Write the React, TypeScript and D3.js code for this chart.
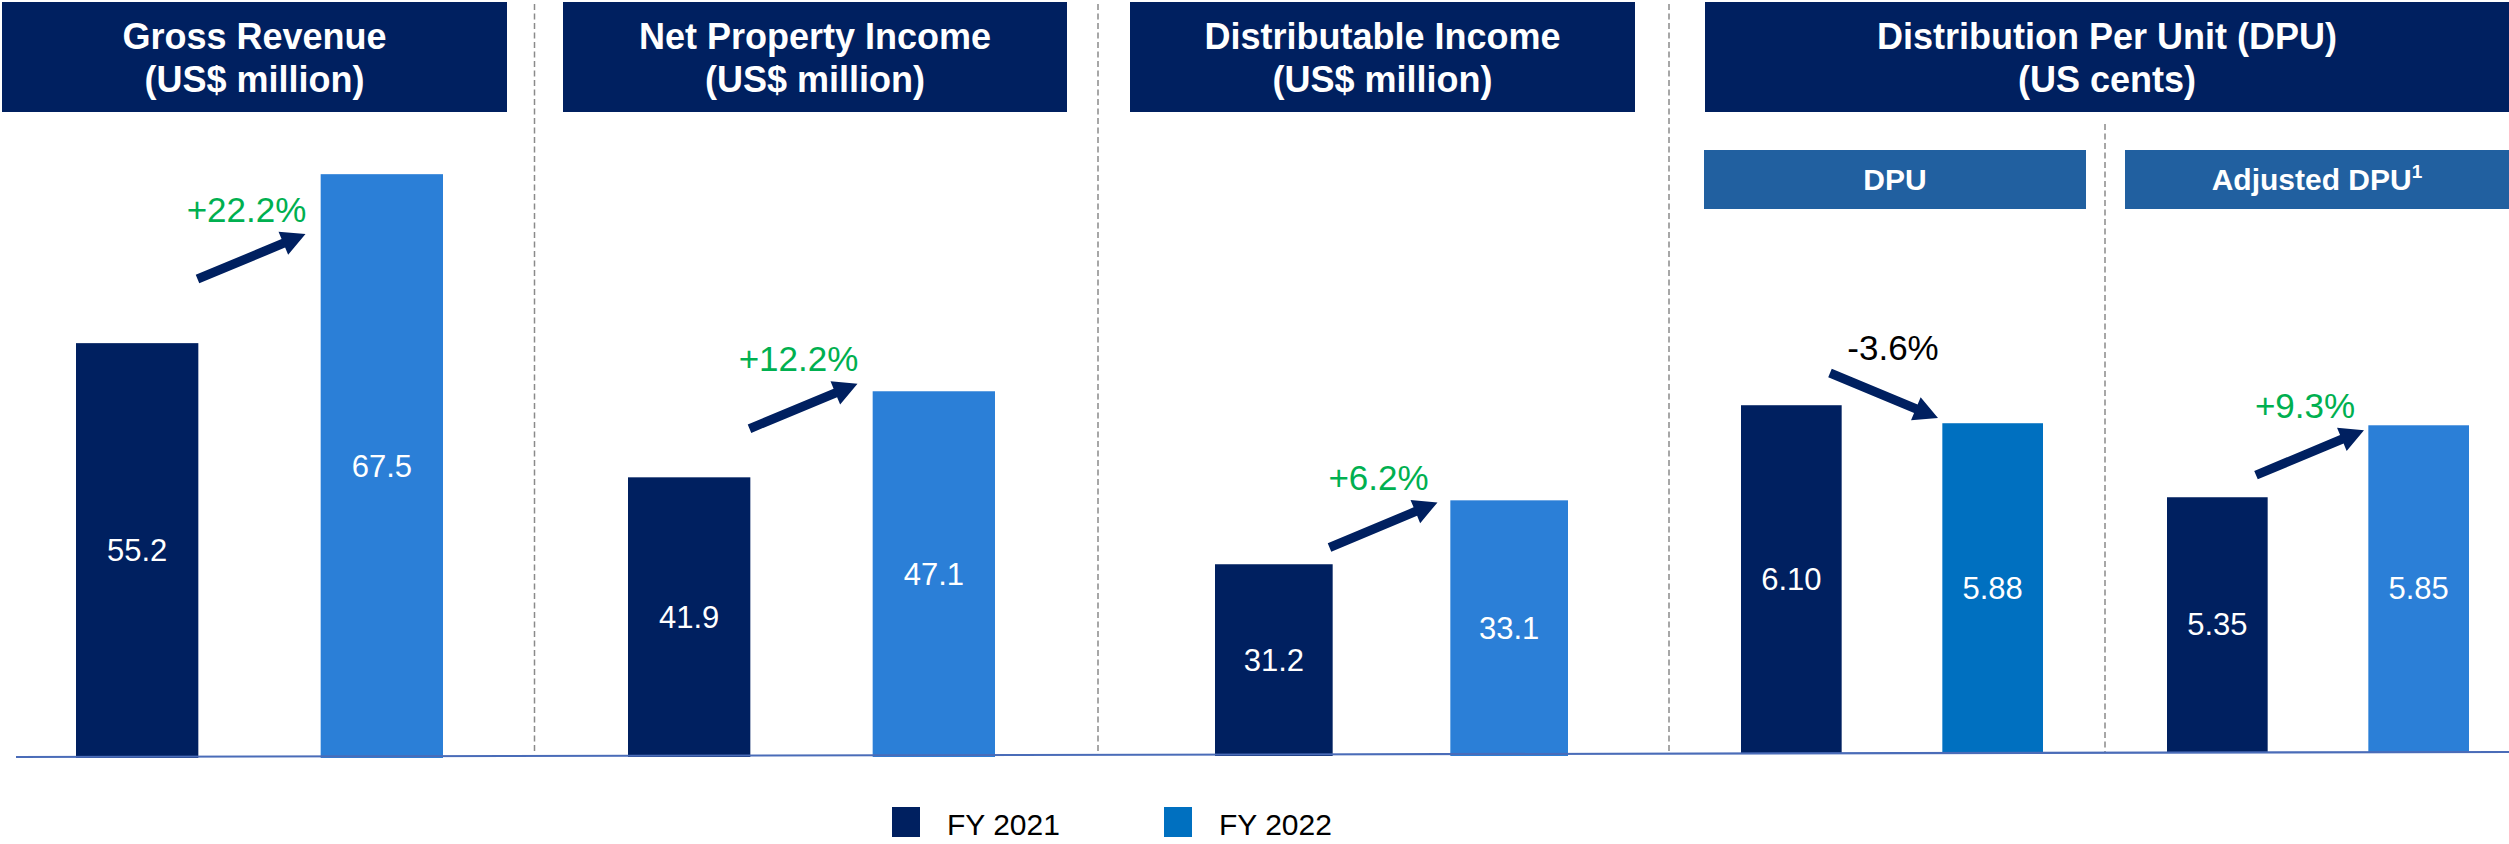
import React from "react";
import * as d3 from "d3";

// ---------- data ----------
const categories = ["FY 2021", "FY 2022"];
const panelKeys = ["Gross Revenue", "Net Property Income", "Distributable Income", "DPU", "Adjusted DPU"];
const fy2021 = [55.2, 41.9, 31.2, 6.1, 5.35];
const fy2022 = [67.5, 47.1, 33.1, 5.88, 5.85];
const decimals = [1, 1, 1, 2, 2];
const changeLabels = ["+22.2%", "+12.2%", "+6.2%", "-3.6%", "+9.3%"];
const changeUp = [true, true, true, false, true];
// truncated value axes used by each small panel
const axisMin = [25, 25, 25.5, 1.85, 3.58];
const axisMax = [72.9, 64.7, 45, 9.83, 8.11];
// level (in panel units) at which the change arrow sits
const arrowLevel = [61.5, 46.2, 32.37, 6.22, 5.66];

const headerTitles = [
  ["Gross Revenue", "(US$ million)"],
  ["Net Property Income", "(US$ million)"],
  ["Distributable Income", "(US$ million)"],
  ["Distribution Per Unit (DPU)", "(US cents)"],
];
const subHeaderTitles = ["DPU", "Adjusted DPU"];

// ---------- layout / styles ----------
const W = 2509;
const H = 844;
const FONT = "'Liberation Sans', Arial, Helvetica, sans-serif";
const NAVY = "#002060";
const LIGHT = "#2B7FD7";
const MID = "#0070C0";
const SUB = "#2160A0";
const GREEN = "#00B050";

const panelXRange: [number, number][] = [
  [76, 443],
  [628, 995],
  [1215, 1568],
  [1741, 2043],
  [2167, 2469],
];
const panelBaseline = [758, 757, 756, 753, 752];
const plotTop = 100;
const fy2022Colors = [LIGHT, LIGHT, LIGHT, MID, LIGHT];

const headerBoxes: [number, number][] = [
  [2, 507],
  [563, 1067],
  [1130, 1635],
  [1705, 2509],
];
const subBoxes: [number, number][] = [
  [1704, 2086],
  [2125, 2509],
];
const separators = [
  { x: 534.5, y0: 4 },
  { x: 1098, y0: 4 },
  { x: 1669, y0: 4 },
  { x: 2105, y0: 124 },
];

function arrowPath(x0: number, y0: number, x1: number, y1: number) {
  const w = 4.6;
  const L = 24;
  const Hh = 12.5;
  const dx = x1 - x0;
  const dy = y1 - y0;
  const len = Math.sqrt(dx * dx + dy * dy);
  const ux = dx / len;
  const uy = dy / len;
  const nx = -uy;
  const ny = ux;
  const bx = x1 - ux * L;
  const by = y1 - uy * L;
  const pts: [number, number][] = [
    [x0 + nx * w, y0 + ny * w],
    [bx + nx * w, by + ny * w],
    [bx + nx * Hh, by + ny * Hh],
    [x1, y1],
    [bx - nx * Hh, by - ny * Hh],
    [bx - nx * w, by - ny * w],
    [x0 - nx * w, y0 - ny * w],
  ];
  return d3.line()(pts) + "Z";
}

export default function App() {
  const panels = panelKeys.map((key, i) => {
    const x = d3.scaleBand<string>().domain(categories).range(panelXRange[i]).paddingInner(0.5).paddingOuter(0);
    const y = d3.scaleLinear().domain([axisMin[i], axisMax[i]]).range([panelBaseline[i], plotTop]);
    return { key, i, x, y, values: [fy2021[i], fy2022[i]] };
  });

  const baseLine = d3.line()([
    [16, 757],
    [W, 752],
  ]);

  return (
    <svg
      width={W}
      height={H}
      style={{ position: "absolute", left: 0, top: 0, background: "#fff" }}
      fontFamily={FONT}
    >
      {/* header boxes */}
      {headerBoxes.map(([x0, x1], i) => (
        <g key={"h" + i}>
          <rect x={x0} y={2} width={x1 - x0} height={110} fill={NAVY} />
          {headerTitles[i].map((t, j) => (
            <text
              key={j}
              x={(x0 + x1) / 2}
              y={49 + j * 43}
              textAnchor="middle"
              fill="#fff"
              fontWeight="bold"
              fontSize={36}
            >
              {t}
            </text>
          ))}
        </g>
      ))}
      {subBoxes.map(([x0, x1], i) => (
        <g key={"s" + i}>
          <rect x={x0} y={150} width={x1 - x0} height={59} fill={SUB} />
          <text x={(x0 + x1) / 2} y={190} textAnchor="middle" fill="#fff" fontWeight="bold" fontSize={30}>
            {subHeaderTitles[i]}
            {i === 1 ? (
              <tspan fontSize={19} dy={-12}>
                1
              </tspan>
            ) : null}
          </text>
        </g>
      ))}

      {/* separators */}
      {separators.map((s, i) => (
        <line
          key={"sep" + i}
          x1={s.x}
          x2={s.x}
          y1={s.y0}
          y2={752}
          stroke="#8a8a8a"
          strokeWidth={1.5}
          strokeDasharray="6,3.5"
        />
      ))}

      {/* bars */}
      {panels.map((p) => (
        <g key={p.key}>
          {p.values.map((v, k) => {
            const x0 = p.x(categories[k]) as number;
            const bw = p.x.bandwidth();
            const yTop = p.y(v);
            const yBot = panelBaseline[p.i];
            return (
              <g key={k}>
                <rect
                  x={x0}
                  y={yTop}
                  width={bw}
                  height={yBot - yTop}
                  fill={k === 0 ? NAVY : fy2022Colors[p.i]}
                />
                <text
                  x={x0 + bw / 2}
                  y={(yTop + yBot) / 2}
                  dy="0.35em"
                  textAnchor="middle"
                  fill="#fff"
                  fontSize={31}
                >
                  {v.toFixed(decimals[p.i])}
                </text>
              </g>
            );
          })}
        </g>
      ))}

      {/* baseline */}
      <path d={baseLine as string} stroke="#4A6CB8" strokeWidth={2.2} fill="none" />

      {/* change arrows */}
      {panels.map((p) => {
        const r = (p.x(categories[0]) as number) + p.x.bandwidth();
        const l = p.x(categories[1]) as number;
        const cx = (r + l) / 2 - 8;
        const cy = p.y(arrowLevel[p.i]);
        const up = changeUp[p.i];
        const x0 = cx - 54;
        const x1 = cx + 54;
        const y0 = up ? cy + 22.5 : cy - 22.5;
        const y1 = up ? cy - 22.5 : cy + 22.5;
        return (
          <g key={"a" + p.i}>
            <path d={arrowPath(x0, y0, x1, y1)} fill={NAVY} />
            <text
              x={cx - 5 + (up ? 0 : 14)}
              y={cy - 35}
              textAnchor="middle"
              fill={up ? GREEN : "#000"}
              fontSize={35}
            >
              {changeLabels[p.i]}
            </text>
          </g>
        );
      })}

      {/* legend */}
      {categories.map((c, k) => (
        <g key={"lg" + k} transform={`translate(${892 + k * 272},0)`}>
          <rect x={0} y={807} width={28} height={30} fill={k === 0 ? NAVY : MID} />
          <text x={55} y={835} fontSize={30} fill="#000">
            {c}
          </text>
        </g>
      ))}
    </svg>
  );
}
